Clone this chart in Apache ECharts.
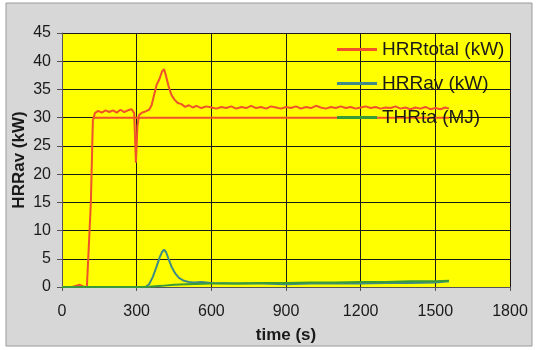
<!DOCTYPE html>
<html>
<head>
<meta charset="utf-8">
<script src="https://cdn.jsdelivr.net/npm/echarts@6/dist/echarts.min.js"></script>
<style>
  html, body { margin: 0; padding: 0; background: #fff; }
  #main { width: 537px; height: 350px; }
</style>
</head>
<body>
<div id="main"></div>
<script>
// values (time in s)
var hrrTotal = [
  [0, 0], [40, 0], [55, 0.2], [70, 0.4], [85, 0.1], [100, 0], [108, 0],
  [116, 15], [124, 29.5], [132, 30.8], [145, 31.2], [160, 30.9], [175, 31.3],
  [190, 31.0], [205, 31.3], [220, 30.9], [235, 31.4], [250, 31.0], [265, 31.3],
  [280, 31.5], [290, 30.8], [297, 22.0], [303, 28.5], [310, 30.5], [322, 30.9],
  [335, 31.1], [350, 31.4], [360, 32.2], [370, 34.0], [380, 35.8], [392, 36.9],
  [402, 38.2], [410, 38.6], [418, 37.4], [428, 35.6], [440, 34.0], [452, 33.2],
  [465, 32.6], [480, 32.4], [495, 31.9], [510, 32.2], [525, 31.8], [540, 32.1],
  [560, 31.7], [580, 32.0], [600, 31.8], [620, 31.6], [640, 31.9], [660, 31.7],
  [680, 32.0], [700, 31.6], [720, 31.9], [740, 31.7], [760, 32.1], [780, 31.7],
  [800, 31.9], [820, 31.6], [840, 32.0], [860, 31.8], [880, 31.6], [900, 31.9],
  [920, 31.7], [940, 32.0], [960, 31.6], [980, 31.9], [1000, 31.7], [1020, 32.1],
  [1040, 31.8], [1060, 31.6], [1080, 31.9], [1100, 31.7], [1120, 32.0], [1140, 31.7],
  [1160, 31.9], [1180, 31.6], [1200, 31.8], [1220, 32.0], [1240, 31.7], [1260, 31.9],
  [1280, 31.6], [1300, 31.8], [1320, 31.7], [1340, 32.0], [1360, 31.6], [1380, 31.8],
  [1400, 31.5], [1420, 31.8], [1440, 31.6], [1460, 31.9], [1480, 31.5], [1500, 31.7],
  [1520, 31.5], [1540, 31.8], [1555, 31.6]
];
var hrrLevel = [[124, 30], [1555, 30]];
var hrrAv = [
  [0, 0], [100, 0], [200, 0], [300, 0], [335, 0], [350, 0.5], [365, 1.8],
  [380, 3.6], [392, 5.2], [402, 6.2], [410, 6.6], [418, 6.2], [428, 5.0],
  [440, 3.6], [455, 2.4], [470, 1.6], [490, 1.1], [510, 0.9], [530, 0.8],
  [560, 0.9], [600, 0.7], [700, 0.6], [800, 0.6], [900, 0.5], [1000, 0.6],
  [1100, 0.6], [1200, 0.6], [1300, 0.7], [1400, 0.7], [1500, 0.8], [1555, 1.0]
];
var thrTa = [
  [0, 0], [100, 0], [200, 0], [300, 0], [350, 0.05], [400, 0.2], [450, 0.4],
  [500, 0.5], [600, 0.6], [700, 0.6], [800, 0.7], [900, 0.7], [1000, 0.8],
  [1100, 0.8], [1200, 0.9], [1300, 0.9], [1400, 1.0], [1500, 1.0], [1555, 1.1]
];
var names = ['HRRtotal (kW)', 'HRRav (kW)', 'THRta (MJ)'];

var myChart = echarts.init(document.getElementById('main'));
var font = 'Arial, "Liberation Sans", sans-serif';
var option = {
  backgroundColor: '#fff',
  animation: false,
  graphic: [{
    type: 'rect', z: -10,
    shape: { x: 6, y: 3, width: 526, height: 343 },
    style: { fill: '#d7d7d7', stroke: '#9a9a9a', lineWidth: 1 }
  }],
  grid: {
    left: 62, right: 27, top: 33, bottom: 63, show: true, backgroundColor: '#ffff00', borderWidth: 0,
    containLabel: false, outerBoundsMode: 'none'
  },
  legend: {
    data: names, orient: 'vertical', left: 332, top: 35, itemWidth: 40, itemHeight: 3, itemGap: 15,
    icon: 'rect',
    textStyle: { fontFamily: font, fontSize: 19, color: '#1a1a1a' }
  },
  xAxis: {
    type: 'value', min: 0, max: 1800, interval: 300,
    name: 'time (s)', nameLocation: 'middle', nameGap: 40, nameMoveOverlap: false,
    nameTextStyle: { fontFamily: font, fontSize: 17, fontWeight: 'bold', color: '#1a1a1a' },
    axisLine: { lineStyle: { color: '#555' } },
    axisTick: { show: true, length: 4, lineStyle: { color: '#555' } },
    axisLabel: { fontFamily: font, fontSize: 16, color: '#1a1a1a', margin: 17, formatter: function (v) { return String(v); } },
    splitLine: { lineStyle: { color: '#1a1a1a', width: 1 } }
  },
  yAxis: {
    type: 'value', min: 0, max: 45, interval: 5,
    name: 'HRRav (kW)', nameLocation: 'middle', nameGap: 34, nameMoveOverlap: false,
    nameTextStyle: { fontFamily: font, fontSize: 17, fontWeight: 'bold', color: '#1a1a1a' },
    axisLine: { show: true, lineStyle: { color: '#555' } },
    axisTick: { show: true, length: 5, lineStyle: { color: '#555' } },
    axisLabel: { fontFamily: font, fontSize: 16, color: '#1a1a1a', margin: 11 },
    splitLine: { lineStyle: { color: '#1a1a1a', width: 1 } }
  },
  series: [
    { name: names[0], type: 'line', data: hrrTotal, symbol: 'none', color: '#f0522a', lineStyle: { width: 2, color: '#f0522a' } },
    { name: 'level', type: 'line', data: hrrLevel, symbol: 'none', color: '#f0522a', lineStyle: { width: 2, color: '#f0522a' } },
    { name: names[1], type: 'line', data: hrrAv, symbol: 'none', color: '#3f8c86', lineStyle: { width: 2, color: '#3f8c86' } },
    { name: names[2], type: 'line', data: thrTa, symbol: 'none', color: '#3a9a3a', lineStyle: { width: 2, color: '#3a9a3a' } }
  ]
};
myChart.setOption(option);
</script>
</body>
</html>
